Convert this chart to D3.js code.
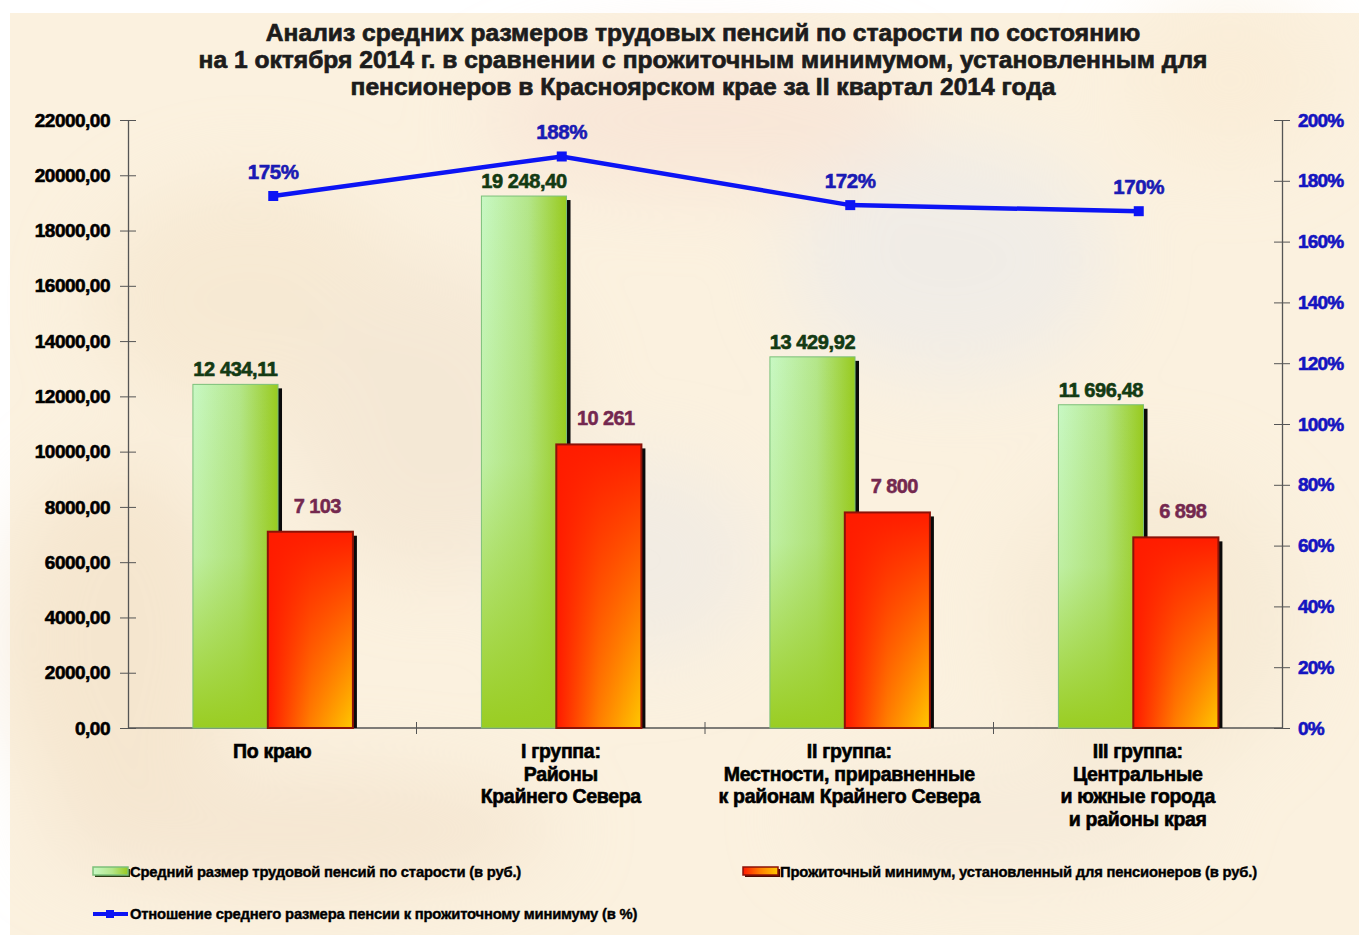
<!DOCTYPE html>
<html>
<head>
<meta charset="utf-8">
<script src="https://cdn.jsdelivr.net/npm/d3@7"></script>
<style>
  body { margin: 0; background: #fff; }
  text { font-family: "Liberation Sans", Arial, sans-serif; font-weight: bold; }
</style>
</head>
<body>
<div id="chart"></div>
<script>
// Chart data
const categories = [
  ["По краю"],
  ["I группа:", "Районы", "Крайнего Севера"],
  ["II группа:", "Местности, приравненные", "к районам Крайнего Севера"],
  ["III группа:", "Центральные", "и южные города", "и районы  края"]
];
const pension = [12434.11, 19248.40, 13429.92, 11696.48];
const minimum = [7103, 10261, 7800, 6898];
const ratio = [175, 188, 172, 170];
const leftTicks = [0, 2000, 4000, 6000, 8000, 10000, 12000, 14000, 16000, 18000, 20000, 22000];
const rightTicks = [0, 20, 40, 60, 80, 100, 120, 140, 160, 180, 200];
const titleLines = [
  "Анализ средних размеров трудовых пенсий по старости по состоянию",
  "на 1 октября  2014 г. в сравнении с прожиточным минимумом, установленным для",
  "пенсионеров  в Красноярском крае за II квартал 2014 года"
];
const legendNames = [
  "Средний размер трудовой пенсий по старости (в руб.)",
  "Прожиточный минимум, установленный для пенсионеров (в руб.)",
  "Отношение среднего размера пенсии к прожиточному минимуму (в %)"
];

const width = 1359, height = 935;
const plot = {left: 128, right: 1282, top: 120, bottom: 728};

const svg = d3.select("#chart").append("svg")
  .attr("width", width)
  .attr("height", height);

const defs = svg.append("defs");

// background blur
defs.append("filter").attr("id", "blur")
  .attr("x", "-50%").attr("y", "-50%").attr("width", "200%").attr("height", "200%")
  .append("feGaussianBlur").attr("stdDeviation", 40);

// green bar gradients
const gH = defs.append("linearGradient").attr("id", "greenH");
gH.append("stop").attr("offset", "0%").attr("stop-color", "#c8f8c4");
gH.append("stop").attr("offset", "55%").attr("stop-color", "#b4e68a");
gH.append("stop").attr("offset", "100%").attr("stop-color", "#98ca1e");
const gV = defs.append("linearGradient").attr("id", "greenV")
  .attr("x1", 0).attr("y1", 0).attr("x2", 0).attr("y2", 1);
gV.append("stop").attr("offset", "0%").attr("stop-color", "#9acd22").attr("stop-opacity", 0);
gV.append("stop").attr("offset", "50%").attr("stop-color", "#9acd22").attr("stop-opacity", 0.2);
gV.append("stop").attr("offset", "100%").attr("stop-color", "#9acd22").attr("stop-opacity", 1);

// red bar gradients
const rH = defs.append("linearGradient").attr("id", "redH");
rH.append("stop").attr("offset", "0%").attr("stop-color", "#ff1800");
rH.append("stop").attr("offset", "50%").attr("stop-color", "#ff8000");
rH.append("stop").attr("offset", "100%").attr("stop-color", "#ffc800");
const rV = defs.append("linearGradient").attr("id", "redV")
  .attr("x1", 0).attr("y1", 0).attr("x2", 0).attr("y2", 1);
rV.append("stop").attr("offset", "0%").attr("stop-color", "#ff1c00").attr("stop-opacity", 1);
rV.append("stop").attr("offset", "40%").attr("stop-color", "#ff1c00").attr("stop-opacity", 0.6);
rV.append("stop").attr("offset", "100%").attr("stop-color", "#ff1c00").attr("stop-opacity", 0);

// Background (parchment)
svg.append("rect").attr("x", 10).attr("y", 13).attr("width", width - 10).attr("height", height - 13)
  .attr("fill", "#fbf1df");
const bg = svg.append("g").attr("filter", "url(#blur)").attr("opacity", 0.5);
[
  [250, 300, 160, 120, "#f3e2c8"], [700, 120, 220, 70, "#f6dcd0"], [950, 260, 160, 120, "#e6e8ee"],
  [430, 420, 140, 160, "#efe0cc"], [1150, 620, 150, 150, "#f2e4cc"], [120, 640, 120, 180, "#f0dcc0"],
  [640, 560, 120, 100, "#e8e6e6"], [1230, 80, 100, 80, "#f9e9d0"], [300, 830, 260, 60, "#efdcc4"],
  [1000, 820, 200, 60, "#f2e6d6"]
].forEach(([cx, cy, rx, ry, c]) => {
  bg.append("ellipse").attr("cx", cx).attr("cy", cy).attr("rx", rx).attr("ry", ry).attr("fill", c);
});

// heavier text like the original rendering
const heavy = (sel, color, w) => sel.attr("fill", color).attr("stroke", color).attr("stroke-width", w || 0.6);

// Scales
const x = d3.scaleBand().domain(d3.range(categories.length))
  .range([plot.left, plot.right]);
const y = d3.scaleLinear().domain([0, 22000]).range([plot.bottom, plot.top]);
const y2 = d3.scaleLinear().domain([0, 200]).range([plot.bottom, plot.top]);

const bw = x.bandwidth();
const barW = bw * 0.295;
const greenX = i => x(i) + bw * 0.225;
const redX = i => greenX(i) + barW * 0.88;

const ru = d3.formatLocale({decimal: ",", thousands: " ", grouping: [3], currency: ["", ""]});
const fmtPension = ru.format(",.2f");
const fmtMin = ru.format(",d");
const fmtTick = d => d3.format(".2f")(d).replace(".", ",");

// Title
svg.append("g").selectAll("text").data(titleLines).enter().append("text")
  .attr("x", 703)
  .attr("y", (d, i) => 41 + i * 27)
  .attr("text-anchor", "middle")
  .attr("font-size", 24.6)
  .attr("letter-spacing", 0)
  .call(heavy, "#1c1c1c", 0.7)
  .text(d => d);

// Axes
const axisColor = "#555";
const gl = svg.append("g").attr("transform", `translate(${plot.left},0)`)
  .call(d3.axisLeft(y).tickValues(leftTicks).tickFormat(fmtTick).tickSizeInner(8).tickSizeOuter(0).tickPadding(10));
gl.selectAll(".tick line").attr("x2", -8).attr("x1", 8).attr("stroke", axisColor);
gl.select(".domain").attr("stroke", axisColor).attr("stroke-width", 1.3);
gl.selectAll(".tick text").attr("font-size", 19).attr("letter-spacing", -0.5)
  .attr("font-family", "Liberation Sans").attr("font-weight", "bold").call(heavy, "#000", 0.6);

const gr = svg.append("g").attr("transform", `translate(${plot.right},0)`)
  .call(d3.axisRight(y2).tickValues(rightTicks).tickFormat(d => d + "%").tickSizeInner(8).tickSizeOuter(0).tickPadding(8));
gr.selectAll(".tick line").attr("x1", -8).attr("x2", 8).attr("stroke", axisColor);
gr.select(".domain").attr("stroke", axisColor).attr("stroke-width", 1.3);
gr.selectAll(".tick text").attr("font-size", 19).attr("letter-spacing", -0.8)
  .attr("font-family", "Liberation Sans").attr("font-weight", "bold").call(heavy, "#1414c0", 0.6);

// Bottom axis with ticks between categories
const gb = svg.append("g");
gb.append("line").attr("x1", plot.left).attr("x2", plot.right)
  .attr("y1", plot.bottom).attr("y2", plot.bottom).attr("stroke", axisColor).attr("stroke-width", 1.3);
gb.selectAll("line.t").data(d3.range(1, categories.length)).enter().append("line")
  .attr("class", "t")
  .attr("x1", i => x(i)).attr("x2", i => x(i))
  .attr("y1", plot.bottom - 6).attr("y2", plot.bottom + 6)
  .attr("stroke", axisColor);

// Category labels
const cat = svg.append("g").selectAll("g").data(categories).enter().append("g")
  .attr("transform", (d, i) => `translate(${x(i) + bw / 2},0)`);
cat.selectAll("text").data(d => d).enter().append("text")
  .attr("x", 0)
  .attr("y", (d, j) => 758 + j * 22.5)
  .attr("text-anchor", "middle")
  .attr("font-size", 19.5)
  .attr("letter-spacing", -0.3)
  .call(heavy, "#000", 0.6)
  .text(d => d);

// Bars
function drawBars(values, xf, hFill, vFill, stroke, sw) {
  const g = svg.append("g");
  // shadows
  g.selectAll("rect.sh").data(values).enter().append("rect")
    .attr("x", (d, i) => xf(i) + 4).attr("y", d => y(d) + 4)
    .attr("width", barW).attr("height", d => plot.bottom - y(d) - 4)
    .attr("fill", "#0a0a0a");
  g.selectAll("rect.b").data(values).enter().append("rect")
    .attr("x", (d, i) => xf(i)).attr("y", d => y(d))
    .attr("width", barW).attr("height", d => plot.bottom - y(d))
    .attr("fill", `url(#${hFill})`);
  g.selectAll("rect.o").data(values).enter().append("rect")
    .attr("x", (d, i) => xf(i)).attr("y", d => y(d))
    .attr("width", barW).attr("height", d => plot.bottom - y(d))
    .attr("fill", `url(#${vFill})`)
    .attr("stroke", stroke).attr("stroke-width", sw);
}
drawBars(pension, greenX, "greenH", "greenV", "#7cc07a", 1);
drawBars(minimum, redX, "redH", "redV", "#8c1208", 2);

// Bar value labels
svg.append("g").selectAll("text").data(pension).enter().append("text")
  .attr("x", (d, i) => greenX(i) + barW / 2)
  .attr("y", d => y(d) - 8)
  .attr("text-anchor", "middle")
  .attr("font-size", 20)
  .attr("letter-spacing", -0.4)
  .call(heavy, "#133a13", 0.6)
  .text(d => fmtPension(d));

svg.append("g").selectAll("text").data(minimum).enter().append("text")
  .attr("x", (d, i) => redX(i) + barW / 2 + 7)
  .attr("y", d => y(d) - 19)
  .attr("text-anchor", "middle")
  .attr("font-size", 20)
  .attr("letter-spacing", -0.6)
  .call(heavy, "#74284f", 0.5)
  .text(d => fmtMin(d));

// Ratio line
const cx = i => x(i) + bw / 2 + 1;
const line = d3.line().x((d, i) => cx(i)).y(d => y2(d));
svg.append("path").datum(ratio)
  .attr("d", line)
  .attr("fill", "none")
  .attr("stroke", "#0c14f4")
  .attr("stroke-width", 4.5);
svg.append("g").selectAll("rect").data(ratio).enter().append("rect")
  .attr("x", (d, i) => cx(i) - 5).attr("y", d => y2(d) - 5)
  .attr("width", 10).attr("height", 10)
  .attr("fill", "#0c14f4");
svg.append("g").selectAll("text").data(ratio).enter().append("text")
  .attr("x", (d, i) => cx(i))
  .attr("y", d => y2(d) - 17)
  .attr("text-anchor", "middle")
  .attr("font-size", 20.5)
  .attr("letter-spacing", -0.4)
  .call(heavy, "#1a1ab4", 0.6)
  .text(d => d + "%");

// Legend
const legend = svg.append("g");
const legItems = [
  {x: 93, y: 872, type: "green"},
  {x: 743, y: 872, type: "red"},
  {x: 93, y: 914, type: "line"}
];
legItems.forEach((it, i) => {
  if (it.type === "line") {
    legend.append("line").attr("x1", it.x).attr("x2", it.x + 35)
      .attr("y1", it.y).attr("y2", it.y).attr("stroke", "#0c14f4").attr("stroke-width", 4);
    legend.append("rect").attr("x", it.x + 13).attr("y", it.y - 4).attr("width", 8).attr("height", 8)
      .attr("fill", "#0c14f4");
  } else {
    const g = it.type === "green";
    legend.append("rect").attr("x", it.x + 2).attr("y", it.y - 3).attr("width", 35).attr("height", 8)
      .attr("fill", g ? "#2a3a10" : "#4a0800");
    legend.append("rect").attr("x", it.x).attr("y", it.y - 5).attr("width", 35).attr("height", 8)
      .attr("fill", g ? "url(#greenH)" : "url(#redH)")
      .attr("stroke", g ? "#7cc07a" : "#8c1208").attr("stroke-width", 1.5);
  }
  legend.append("text")
    .attr("x", it.x + 37).attr("y", it.y + 5)
    .attr("font-size", 14.8)
    .attr("letter-spacing", -0.2)
    .call(heavy, "#000", 0.4)
    .text(legendNames[i]);
});
</script>
</body>
</html>
